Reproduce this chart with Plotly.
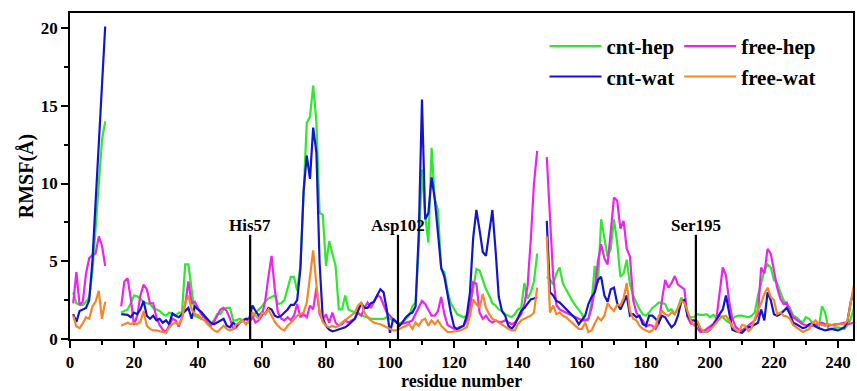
import plotly.graph_objects as go

# residue segments (gaps at 12-15 and 147-148)
seg_a = list(range(1, 12))
seg_b = list(range(16, 147))
seg_c = list(range(149, 246))

cnt_hep_a = [3.0, 2.3, 2.2, 2.2, 2.4, 2.7, 4.3, 7.0, 9.8, 12.8, 14.0]
cnt_hep_b = [1.7, 1.8, 1.9, 2.3, 2.8, 2.75, 2.6, 2.35, 2.3, 2.25,
             2.0, 1.9, 1.8, 1.6, 1.5, 1.7, 1.6, 1.5, 1.7, 1.7,
             4.8, 4.8, 3.2, 1.5, 1.4, 1.3, 1.5, 1.2, 1.0, 1.2,
             1.6, 1.6, 1.9, 2.0, 2.0, 1.2, 1.2, 1.3, 1.2, 1.3,
             1.2, 1.3, 1.7, 1.9, 2.1, 2.4, 2.6, 2.7, 2.8, 2.25,
             2.3, 2.5, 3.2, 4.0, 4.0, 3.1, 4.7, 9.0, 13.9, 14.3,
             16.3, 14.0, 8.1, 8.0, 4.7, 6.3, 5.5, 4.7, 1.9, 1.9,
             2.8, 1.9, 1.8, 1.7, 1.6, 1.5, 1.45, 1.4, 1.3, 1.3,
             1.3, 1.3, 1.3, 1.4, 1.3, 1.2, 1.05, 1.0, 1.1, 1.3,
             1.5, 2.1, 2.35, 6.0, 10.9, 7.9, 6.2, 12.3, 9.0, 8.3,
             4.5, 4.3, 3.1, 2.3, 1.9, 1.6, 1.5, 1.4, 1.5, 2.15,
             3.2, 4.5, 4.4, 3.8, 3.2, 2.8, 2.3, 2.15, 1.9, 1.8,
             1.6, 1.5, 1.4, 1.6, 1.9, 2.0, 3.6, 2.6, 3.0, 3.7, 5.5]
cnt_hep_c = [4.0, 3.85, 3.5, 4.2, 4.6, 3.6, 3.2, 2.8, 2.45, 2.15,
             1.9, 1.6, 1.2, 1.2, 2.35, 4.7, 3.6, 7.7, 6.5, 5.3,
             5.8, 7.7, 6.2, 4.0, 4.2, 5.1, 3.5, 2.8, 2.35, 1.9,
             1.6, 1.5, 1.7, 2.0, 2.15, 2.35, 2.3, 2.25, 1.8, 1.9,
             1.6, 2.0, 2.65, 2.4, 1.5, 1.4, 1.4, 1.6, 1.55, 1.55,
             1.6, 1.4, 1.55, 1.4, 1.5, 1.4, 1.2, 1.05, 1.3, 1.45,
             1.5, 1.5, 1.45, 1.4, 1.5, 1.7, 2.8, 3.7, 4.4, 4.8,
             4.6, 3.8, 3.6, 3.0, 2.5, 2.2, 2.0, 1.5, 1.4, 1.2,
             1.05, 1.4, 1.3, 1.05, 0.9, 0.75, 2.1, 1.7, 0.65, 0.65,
             0.7, 0.75, 0.7, 0.65, 0.9, 1.3, 2.0]

free_hep_a = [2.3, 4.3, 2.2, 2.4, 4.2, 5.2, 5.4, 5.5, 6.6, 6.0, 4.7]
free_hep_b = [2.1, 3.7, 3.9, 2.6, 0.9, 1.5, 2.8, 3.5, 3.2, 2.3,
              2.3, 1.4, 0.9, 0.6, 0.45, 0.9, 1.3, 1.2, 0.8, 1.4,
              2.2, 3.7, 2.3, 2.4, 2.0, 1.6, 1.4, 1.0, 0.85, 1.1,
              1.5, 1.9, 2.0, 1.8, 1.3, 0.65, 0.75, 1.05, 1.2, 1.3,
              1.05, 1.5, 1.05, 1.2, 1.5, 2.45, 4.0, 5.35, 3.2, 1.7,
              1.3, 1.2, 1.4, 1.2, 1.5, 2.25, 1.4, 1.6, 1.4, 2.15,
              1.9, 3.3, 1.6, 1.2, 1.6, 1.05, 1.7, 1.05, 0.85, 0.95,
              1.2, 1.05, 1.2, 1.3, 1.7, 1.5, 2.0, 2.35, 2.0, 2.45,
              2.8, 2.7, 2.2, 1.7, 1.5, 1.3, 1.05, 0.95, 1.0, 1.05,
              1.1, 1.2, 1.6, 2.0, 2.45, 2.25, 1.9, 1.5, 1.5, 1.8,
              2.7, 1.6, 0.9, 0.8, 0.65, 0.7, 0.75, 0.85, 1.2, 2.0,
              3.65, 3.55, 1.7, 1.3, 1.5, 1.2, 1.05, 1.2, 1.1, 1.1,
              1.2, 1.05, 0.95, 1.05, 1.3, 1.6, 2.25, 3.4, 6.4, 10.0, 12.1]
free_hep_c = [11.7, 8.0, 4.0, 2.2, 1.9, 1.8, 1.7, 1.6, 1.5, 1.4,
              1.3, 1.2, 1.2, 1.3, 2.0, 3.2, 5.0, 6.1, 5.2, 4.8,
              6.9, 9.1, 8.9, 7.1, 7.6, 5.8, 5.3, 2.5, 1.7, 1.4,
              1.2, 0.8, 0.9, 0.85, 0.65, 1.0, 2.5, 3.8, 3.3, 3.6,
              4.05, 3.5, 3.35, 3.2, 1.4, 1.0, 0.95, 0.7, 0.45, 0.5,
              0.65, 0.8, 0.95, 1.3, 3.0, 4.6, 4.1, 2.4, 1.3, 0.8,
              0.6, 0.55, 0.7, 0.85, 1.0, 1.2, 1.6, 4.6, 4.2, 5.8,
              5.5, 4.3, 3.3, 2.6, 2.25, 2.35, 1.8, 1.4, 1.25, 1.1,
              0.95, 0.9, 0.85, 0.85, 0.9, 0.95, 1.05, 0.95, 0.85, 0.9,
              0.95, 0.95, 1.0, 1.05, 0.95, 1.0, 1.05]

cnt_wat_a = [1.6, 1.1, 1.8, 1.9, 2.0, 2.5, 5.0, 8.8, 12.3, 16.2, 20.1]
cnt_wat_b = [1.6, 1.55, 1.55, 1.4, 1.7, 1.6, 1.9, 2.45, 1.5, 1.3,
             1.5, 1.2, 1.3, 1.05, 1.2, 0.95, 1.65, 1.5, 1.4, 1.6,
             1.8, 2.0, 1.3, 2.1, 1.9, 1.75, 1.5, 1.3, 1.05, 0.95,
             1.05, 1.2, 1.3, 0.85, 0.75, 1.05, 0.85, 1.05, 1.2, 1.3,
             1.3, 2.15, 1.8, 1.5, 1.7, 1.6, 2.0, 1.9, 1.5, 1.4,
             1.5, 1.7, 1.9, 2.2, 2.2, 2.5, 4.5, 9.5, 11.8, 10.3,
             13.6, 12.0, 4.9, 1.3, 0.85, 0.6, 0.5, 0.55, 0.6, 0.7,
             0.75, 0.9, 1.1, 1.3, 1.8, 2.3, 2.0, 2.0, 2.3, 2.4,
             2.8, 3.2, 3.0, 1.9, 0.4, 1.3, 1.1, 0.85, 1.1, 1.4,
             1.6, 1.7, 2.1, 6.8, 15.4, 7.7, 8.1, 10.4, 9.0, 7.0,
             4.6, 4.0, 2.8, 1.7, 0.8, 0.6, 0.75, 0.85, 1.5, 3.0,
             6.5, 8.3, 7.0, 5.6, 5.35, 6.8, 8.3, 5.7, 2.7, 1.8,
             1.5, 0.85, 0.65, 0.9, 1.4, 1.8, 2.0, 2.3, 2.55, 2.6, 2.7]
cnt_wat_c = [7.6, 3.0, 2.8, 2.45, 2.35, 2.15, 1.9, 1.7, 1.5, 1.3,
             0.95, 1.2, 1.5, 2.25, 2.7, 3.0, 3.8, 4.0, 2.8, 2.4,
             3.2, 3.3, 2.3, 1.9, 2.3, 2.8, 1.5, 1.6, 1.4, 1.5,
             0.95, 0.85, 1.5, 1.5, 1.3, 1.05, 1.5, 1.4, 1.05, 0.75,
             0.95, 1.5, 2.4, 2.5, 1.5, 1.2, 1.2, 1.05, 0.65, 0.5,
             0.45, 0.6, 0.9, 1.2, 1.6, 1.9, 2.8, 1.7, 0.6, 0.5,
             0.45, 0.4, 0.6, 0.75, 0.8, 0.9, 1.05, 1.9, 1.2, 3.0,
             2.5, 1.6, 1.5, 1.6, 1.8, 2.0, 1.6, 1.05, 0.95, 0.85,
             0.7, 0.75, 0.95, 1.0, 0.8, 0.7, 0.65, 0.55, 0.6, 0.65,
             0.6, 0.55, 0.65, 0.75, 1.2, 2.4, 3.0]

free_wat_a = [1.5, 0.8, 0.7, 1.0, 1.4, 1.3, 2.1, 2.4, 3.1, 1.3, 2.4]
free_wat_b = [0.85, 0.95, 1.05, 0.95, 1.05, 0.95, 1.1, 1.8, 0.85, 0.65,
              0.55, 0.55, 0.5, 0.45, 0.4, 0.75, 0.95, 1.05, 0.95, 1.3,
              2.35, 2.8, 1.9, 1.6, 1.55, 1.3, 1.2, 0.95, 0.75, 0.55,
              0.45, 0.65, 0.85, 0.65, 0.55, 0.65, 0.95, 1.05, 1.2, 0.95,
              1.2, 1.7, 1.5, 1.3, 1.7, 1.6, 1.9, 1.5, 1.1, 0.85,
              0.65, 0.55, 0.85, 1.05, 1.3, 1.5, 1.6, 1.7, 2.35, 4.0,
              5.7, 3.5, 1.8, 1.1, 0.85, 0.75, 0.85, 0.75, 0.85, 1.05,
              1.2, 1.4, 1.5, 1.7, 2.15, 2.35, 1.7, 1.4, 1.2, 1.05,
              1.0, 0.95, 0.85, 0.75, 0.6, 0.55, 0.55, 0.65, 0.75, 0.85,
              0.95, 0.65, 1.05, 0.85, 1.2, 1.3, 0.85, 1.2, 0.95, 1.2,
              0.85, 0.65, 0.45, 0.45, 0.5, 0.5, 0.55, 0.65, 0.75, 1.5,
              2.55, 2.25, 2.0, 2.9, 2.0, 1.6, 1.3, 1.2, 1.05, 0.9,
              0.75, 0.65, 0.55, 0.55, 0.95, 1.2, 1.3, 1.4, 1.5, 1.7, 3.3]
free_wat_c = [6.6, 1.7, 2.15, 1.6, 1.7, 1.5, 1.4, 1.2, 1.05, 0.85,
              0.65, 0.65, 1.05, 0.45, 0.55, 1.0, 1.4, 1.2, 1.5, 2.3,
              2.0, 1.8, 2.2, 2.15, 2.6, 3.6, 1.8, 1.3, 1.2, 0.85,
              0.65, 0.55, 0.45, 0.55, 0.85, 1.5, 1.8, 1.6, 1.5, 1.7,
              1.6, 2.0, 2.45, 2.35, 1.7, 1.2, 0.9, 1.2, 0.7, 0.5,
              0.45, 0.6, 0.8, 1.05, 1.3, 1.45, 1.5, 1.2, 0.8, 0.6,
              0.45, 0.9, 0.85, 0.5, 0.7, 1.3, 1.9, 2.3, 2.9, 3.3,
              2.7, 2.5, 1.6, 1.7, 1.5, 1.45, 1.3, 0.9, 0.75, 0.55,
              0.45, 0.55, 0.65, 1.0, 1.2, 0.95, 0.9, 0.85, 0.95, 0.9,
              0.85, 0.95, 0.95, 0.95, 1.2, 2.4, 3.5]

# active-site residue markers
site_labels = ["His57", "Asp102", "Ser195"]
site_x = [56.3, 102.5, 195.6]
site_top = [6.7, 6.7, 6.7]

series_names = ["cnt-hep", "free-hep", "cnt-wat", "free-wat"]
series_colors = ["#2ee82e", "#ee22ee", "#1414cc", "#f5862a"]
series_legend = ["legend", "legend2", "legend", "legend2"]
series_data = [
    (cnt_hep_a, cnt_hep_b, cnt_hep_c),
    (free_hep_a, free_hep_b, free_hep_c),
    (cnt_wat_a, cnt_wat_b, cnt_wat_c),
    (free_wat_a, free_wat_b, free_wat_c),
]

FONT = "Liberation Serif, Times New Roman, serif"


def join(a, b, c):
    return list(a) + [None] + list(b) + [None] + list(c)


xs = join(seg_a, seg_b, seg_c)

fig = go.Figure()
for name, color, leg, (a, b, c) in zip(series_names, series_colors, series_legend, series_data):
    fig.add_trace(go.Scatter(
        x=xs, y=join(a, b, c), mode="lines", name=name, legend=leg,
        line=dict(color=color, width=2.2), connectgaps=False,
    ))

for lab, sx, st in zip(site_labels, site_x, site_top):
    fig.add_shape(type="line", xref="x", yref="y", x0=sx, x1=sx, y0=0, y1=st,
                  line=dict(color="black", width=2.2))
    fig.add_annotation(x=sx, y=st, xref="x", yref="y", text=lab, showarrow=False,
                       yanchor="bottom", yshift=-2,
                       font=dict(family=FONT, size=17, color="black", weight="bold"))

# x-axis title placed as text just under the tick labels
fig.add_annotation(x=0.5, y=-0.1288, xref="paper", yref="paper", text="residue number",
                   showarrow=False, xanchor="center", yanchor="middle",
                   font=dict(family=FONT, size=18, color="black", weight="bold"))

axis_common = dict(
    showline=True, linecolor="black", linewidth=1.8, mirror=True,
    ticks="outside", tickcolor="black", tickwidth=1.5, ticklen=7,
    showgrid=False, zeroline=False,
    tickfont=dict(family=FONT, size=17, color="black", weight="bold"),
)

fig.update_xaxes(
    range=[0, 244.7], dtick=20, tick0=0,
    minor=dict(dtick=10, ticks="outside", ticklen=4, tickcolor="black", tickwidth=1.5),
    **axis_common,
)
fig.update_yaxes(
    range=[0, 20.97], dtick=5, tick0=0,
    minor=dict(dtick=2.5, ticks="outside", ticklen=4, tickcolor="black", tickwidth=1.5),
    title=dict(text="RMSF(Å)", standoff=2,
               font=dict(family=FONT, size=20, color="black", weight="bold")),
    **axis_common,
)

legend_common = dict(
    orientation="v", yanchor="top", xanchor="left",
    bgcolor="rgba(0,0,0,0)", itemwidth=52, tracegroupgap=0,
    font=dict(family=FONT, size=21, color="black", weight="bold"),
)

fig.update_layout(
    width=857, height=391,
    margin=dict(l=70, r=2, t=13, b=52),
    paper_bgcolor="white", plot_bgcolor="white",
    font=dict(family=FONT, color="black"),
    legend=dict(x=0.606, y=0.96, **legend_common),
    legend2=dict(x=0.778, y=0.96, **legend_common),
)

fig.write_html("out.html")
